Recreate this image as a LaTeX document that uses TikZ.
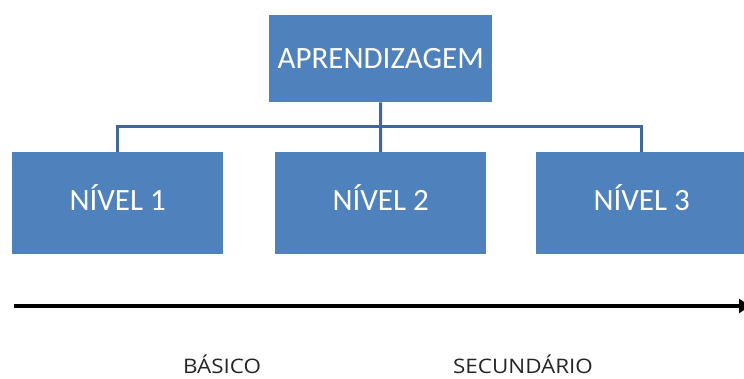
\documentclass[tikz,border=0pt]{standalone}
\usepackage{fontspec}
\setmainfont{Carlito}
\newfontfamily\labelfont{Open Sans}
\usetikzlibrary{arrows.meta}
\definecolor{boxblue}{HTML}{4F81BD}
\definecolor{linkblue}{HTML}{3F6898}
\begin{document}
\begin{tikzpicture}[x=1pt,y=-1pt,
  levelbox/.style={fill=boxblue,draw=none,text=white,font=\fontsize{31}{34}\selectfont,
    minimum width=211pt,minimum height=102pt,inner sep=0pt,anchor=north west,
    text height=20pt,text depth=6pt},
  topbox/.style={levelbox,minimum width=223pt,minimum height=87pt,text depth=1pt},
  link/.style={draw=linkblue,line width=3pt},
  stage/.style={font=\labelfont\fontsize{20}{24}\selectfont,text=black!85,
    anchor=base,inner sep=0pt,xscale=1.12,transform shape}]
  \clip (0,0) rectangle (744,378);
  \fill[white] (0,0) rectangle (744,378);
  % hierarchy
  \node[topbox] (top) at (269,15) {APRENDIZAGEM};
  \node[levelbox] (n1) at (12,152) {NÍVEL 1};
  \node[levelbox] (n2) at (275,152) {NÍVEL 2};
  \node[levelbox] (n3) at (536,152) {NÍVEL 3};
  \coordinate (bar) at (380.5,126);
  \draw[link] (top.south) -- (bar);
  \draw[link] (n1.north) |- (bar) -| (n3.north);
  \draw[link] (bar) -- (n2.north);
  % progression axis
  \coordinate (axL) at (14,306);
  \coordinate (axR) at (750,306);
  \draw[line width=4pt,-{Triangle[length=11pt,width=14pt]}] (axL) -- (axR);
  \node[stage] (basico) at (222,373) {BÁSICO};
  \node[stage] (secund) at (523,373) {SECUNDÁRIO};
\end{tikzpicture}
\end{document}
